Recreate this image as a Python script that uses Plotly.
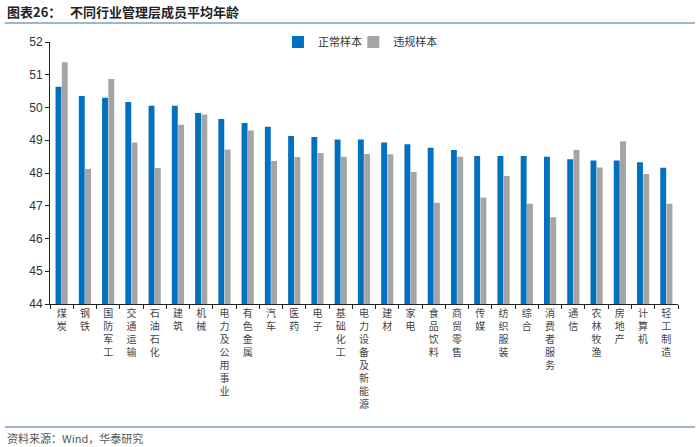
import plotly.graph_objects as go

categories = ["煤炭", "钢铁", "国防军工", "交通运输", "石油石化", "建筑", "机械", "电力及公用事业",
              "有色金属", "汽车", "医药", "电子", "基础化工", "电力设备及新能源", "建材", "家电",
              "食品饮料", "商贸零售", "传媒", "纺织服装", "综合", "消费者服务", "通信", "农林牧渔",
              "房地产", "计算机", "轻工制造"]
normal = [50.63, 50.35, 50.30, 50.17, 50.05, 50.05, 49.83, 49.65, 49.53, 49.41, 49.13, 49.10,
          49.02, 49.02, 48.93, 48.88, 48.77, 48.70, 48.52, 48.52, 48.52, 48.50, 48.42, 48.38,
          48.38, 48.33, 48.16]
violation = [51.38, 48.12, 50.87, 48.93, 48.15, 49.47, 49.79, 48.72, 49.30, 48.37, 48.49, 48.61,
             48.50, 48.58, 48.57, 48.03, 47.09, 48.50, 47.25, 47.91, 47.06, 46.65, 48.70, 48.17,
             48.97, 47.97, 47.06]
y_ticks = [44, 45, 46, 47, 48, 49, 50, 51, 52]

labels = ["<br>".join(list(c)) for c in categories]

fig = go.Figure()
fig.add_trace(go.Bar(x=labels, y=normal, name="正常样本", legend="legend",
                     marker=dict(color="#0070C0", line=dict(width=0))))
fig.add_trace(go.Bar(x=labels, y=violation, name="违规样本", legend="legend2",
                     marker=dict(color="#A5A5A5", line=dict(width=0))))

legend_style = dict(orientation="h", y=1.0, xanchor="left", yanchor="middle",
                    font=dict(size=11, color="#333333"), itemwidth=30, bgcolor="rgba(0,0,0,0)")

fig.update_layout(
    width=700, height=447,
    margin=dict(l=50, r=22, t=42, b=143),
    paper_bgcolor="white", plot_bgcolor="white",
    barmode="group", bargap=0.46, bargroupgap=0.06,
    font=dict(family="Noto Sans CJK SC, Arial", color="#333333"),
    showlegend=True,
    legend=dict(x=0.363, **legend_style),
    legend2=dict(x=0.483, **legend_style),
    xaxis=dict(type="category", showline=True, linecolor="#222222", linewidth=1,
               ticks="outside", ticklen=4, tickcolor="#222222", tickson="boundaries",
               tickangle=0, tickfont=dict(size=10, color="#444444", family="Noto Sans CJK SC"),
               showgrid=False),
    yaxis=dict(range=[44, 52], tickvals=y_ticks, showline=True, linecolor="#222222", linewidth=1,
               ticks="outside", ticklen=4, tickcolor="#222222", showgrid=False, zeroline=False,
               tickfont=dict(size=12, color="#333333", family="Liberation Sans, Arial")),
)

fig.add_annotation(xref="paper", yref="paper", x=-0.072, y=1.118, xanchor="left", yanchor="middle",
                   text="<b>图表26：</b>   <b>不同行业管理层成员平均年龄</b>", showarrow=False,
                   font=dict(size=13, color="#222222", family="Noto Sans CJK SC"))
fig.add_shape(type="line", xref="paper", yref="paper", x0=-0.072, x1=1.027, y0=1.0725, y1=1.0725,
              line=dict(color="#7F9DC0", width=1.5))
fig.add_shape(type="line", xref="paper", yref="paper", x0=-0.072, x1=1.027, y0=-0.469, y1=-0.469,
              line=dict(color="#7F9DC0", width=1.5))
fig.add_annotation(xref="paper", yref="paper", x=-0.072, y=-0.51, xanchor="left", yanchor="middle",
                   text="资料来源：Wind，华泰研究", showarrow=False,
                   font=dict(size=11, color="#555555", family="Noto Sans CJK SC"))

fig.write_html("out.html", config={"displayModeBar": False},
               post_script="document.body.style.margin='0';document.body.style.overflow='hidden';")
